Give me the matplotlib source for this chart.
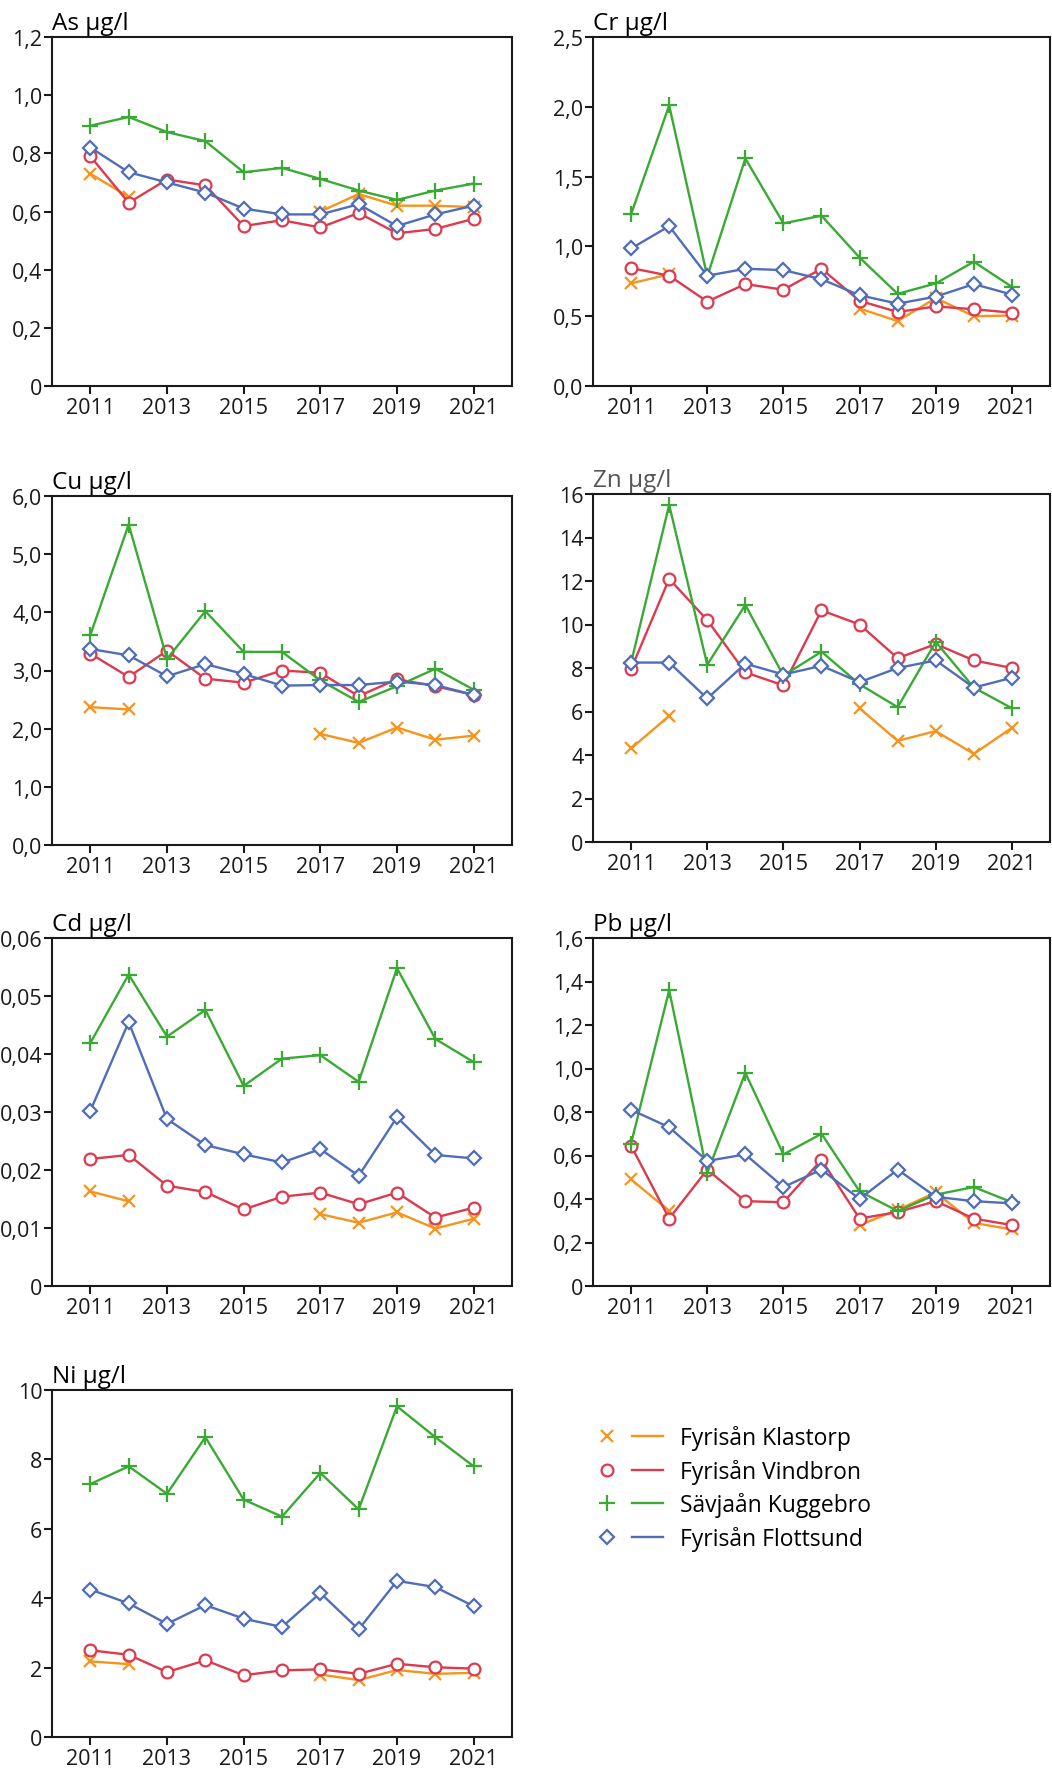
import numpy as np
import matplotlib
matplotlib.use("Agg")
import matplotlib.pyplot as plt
from matplotlib.lines import Line2D
from matplotlib.legend_handler import HandlerTuple

plt.rcParams['font.family'] = ['Open Sans', 'DejaVu Sans']

nan = np.nan
years = np.arange(2011, 2022)
stations = ["Fyrisån Klastorp", "Fyrisån Vindbron", "Sävjaån Kuggebro", "Fyrisån Flottsund"]

# As
as_klastorp = [0.73, 0.65, nan, nan, nan, nan, 0.60, 0.66, 0.62, 0.62, 0.615]
as_vindbron = [0.79, 0.63, 0.71, 0.69, 0.55, 0.57, 0.545, 0.595, 0.525, 0.54, 0.575]
as_kuggebro = [0.895, 0.925, 0.873, 0.842, 0.735, 0.75, 0.712, 0.672, 0.64, 0.672, 0.696]
as_flottsund = [0.82, 0.735, 0.70, 0.665, 0.61, 0.59, 0.59, 0.625, 0.55, 0.59, 0.62]

# Cr
cr_klastorp = [0.735, 0.80, nan, nan, nan, nan, 0.555, 0.465, 0.63, 0.50, 0.505]
cr_vindbron = [0.845, 0.79, 0.605, 0.73, 0.69, 0.84, 0.61, 0.53, 0.57, 0.55, 0.525]
cr_kuggebro = [1.23, 2.01, 0.785, 1.63, 1.165, 1.22, 0.92, 0.66, 0.735, 0.89, 0.71]
cr_flottsund = [0.985, 1.145, 0.79, 0.84, 0.83, 0.765, 0.65, 0.59, 0.64, 0.73, 0.655]

# Cu
cu_klastorp = [2.37, 2.33, nan, nan, nan, nan, 1.91, 1.755, 2.02, 1.81, 1.88]
cu_vindbron = [3.29, 2.89, 3.34, 2.86, 2.79, 3.00, 2.96, 2.56, 2.85, 2.73, 2.58]
cu_kuggebro = [3.61, 5.51, 3.20, 4.02, 3.32, 3.32, 2.83, 2.46, 2.73, 3.03, 2.67]
cu_flottsund = [3.37, 3.26, 2.90, 3.11, 2.94, 2.74, 2.75, 2.75, 2.81, 2.75, 2.58]

# Zn
zn_klastorp = [4.3, 5.8, nan, nan, nan, nan, 6.15, 4.65, 5.1, 4.05, 5.25]
zn_vindbron = [7.95, 12.1, 10.2, 7.8, 7.2, 10.65, 10.0, 8.45, 9.1, 8.35, 8.0]
zn_kuggebro = [8.25, 15.5, 8.15, 10.9, 7.65, 8.75, 7.25, 6.2, 9.2, 7.1, 6.15]
zn_flottsund = [8.25, 8.25, 6.6, 8.2, 7.7, 8.1, 7.35, 8.0, 8.35, 7.1, 7.55]

# Cd
cd_klastorp = [0.0163, 0.0146, nan, nan, nan, nan, 0.0124, 0.0109, 0.0127, 0.0099, 0.0116]
cd_vindbron = [0.0219, 0.0226, 0.0173, 0.0162, 0.0132, 0.0154, 0.0161, 0.0141, 0.0161, 0.0118, 0.0135]
cd_kuggebro = [0.0419, 0.0537, 0.0430, 0.0476, 0.0345, 0.0392, 0.0398, 0.0352, 0.0548, 0.0426, 0.0386]
cd_flottsund = [0.0302, 0.0455, 0.0288, 0.0243, 0.0227, 0.0213, 0.0236, 0.0190, 0.0291, 0.0226, 0.0220]

# Pb
pb_klastorp = [0.49, 0.345, nan, nan, nan, nan, 0.28, 0.35, 0.43, 0.29, 0.26]
pb_vindbron = [0.645, 0.31, 0.535, 0.39, 0.385, 0.58, 0.31, 0.34, 0.39, 0.31, 0.28]
pb_kuggebro = [0.655, 1.36, 0.52, 0.98, 0.605, 0.70, 0.435, 0.345, 0.42, 0.455, 0.385]
pb_flottsund = [0.81, 0.73, 0.575, 0.605, 0.455, 0.535, 0.40, 0.535, 0.41, 0.39, 0.38]

# Ni
ni_klastorp = [2.18, 2.10, nan, nan, nan, nan, 1.80, 1.64, 1.93, 1.82, 1.85]
ni_vindbron = [2.50, 2.37, 1.87, 2.21, 1.78, 1.92, 1.95, 1.82, 2.11, 2.01, 1.97]
ni_kuggebro = [7.29, 7.80, 7.01, 8.64, 6.84, 6.35, 7.61, 6.56, 9.53, 8.64, 7.80]
ni_flottsund = [4.25, 3.85, 3.26, 3.80, 3.41, 3.17, 4.15, 3.10, 4.50, 4.32, 3.77]

colors = ['#f7941d', '#dc3a4e', '#3aaa35', '#4f6db8']
markers = ['x', 'o', '+', 'D']
msizes = [9, 8.5, 11, 7.5]

W, H = 1052, 1774
fig = plt.figure(figsize=(W / 100, H / 100), dpi=100)


def px_axes(left, top, right, bottom):
    return fig.add_axes([left / W, 1 - bottom / H, (right - left) / W, (bottom - top) / H])


def fmt(v, dec, zero):
    if v == 0:
        return zero
    return f"{v:.{dec}f}".replace('.', ',')


panels = [
    ("As µg/l", [as_klastorp, as_vindbron, as_kuggebro, as_flottsund], 1.2, 0.2, 1, '0', (52, 38, 512, 387), 'black'),
    ("Cr µg/l", [cr_klastorp, cr_vindbron, cr_kuggebro, cr_flottsund], 2.5, 0.5, 1, '0,0', (593, 38, 1050, 387), 'black'),
    ("Cu µg/l", [cu_klastorp, cu_vindbron, cu_kuggebro, cu_flottsund], 6.0, 1.0, 1, '0,0', (52, 497, 512, 846), 'black'),
    ("Zn µg/l", [zn_klastorp, zn_vindbron, zn_kuggebro, zn_flottsund], 16, 2, 0, '0', (593, 495, 1050, 843), '#555555'),
    ("Cd µg/l", [cd_klastorp, cd_vindbron, cd_kuggebro, cd_flottsund], 0.06, 0.01, 2, '0', (52, 939, 512, 1287), 'black'),
    ("Pb µg/l", [pb_klastorp, pb_vindbron, pb_kuggebro, pb_flottsund], 1.6, 0.2, 1, '0', (593, 939, 1050, 1287), 'black'),
    ("Ni µg/l", [ni_klastorp, ni_vindbron, ni_kuggebro, ni_flottsund], 10, 2, 0, '0', (52, 1391, 512, 1738), 'black'),
]

order = [3, 1, 2, 0]
for title, series, ymax, step, dec, zero, box, tcol in panels:
    ax = px_axes(*box)
    for i in order:
        ax.plot(years, series[i], color=colors[i], lw=1.7, marker=markers[i], ms=msizes[i],
                mew=1.6, mfc='white' if markers[i] in ('o', 'D') else colors[i], mec=colors[i],
                zorder=3 + i)
    ax.set_xlim(2010, 2022)
    ax.set_ylim(0, ymax)
    yt = np.arange(0, ymax + step / 2, step)
    ax.set_yticks(yt)
    ax.set_yticklabels([fmt(v, dec, zero) for v in yt])
    ax.set_xticks(np.arange(2011, 2022, 2))
    for s in ax.spines.values():
        s.set_linewidth(1.5)
        s.set_color('#1a1a1a')
    ax.tick_params(axis='both', labelsize=15.5, length=6, width=1.5, colors='#1a1a1a')
    ax.tick_params(axis='y', pad=1)
    ax.tick_params(axis='x', pad=2)
    ax.set_title(title, loc='left', fontsize=17.5, color=tcol, pad=6)

handles = []
for i in range(4):
    mk = Line2D([], [], ls='none', marker=markers[i], ms=msizes[i], mew=1.6,
                mfc='white' if markers[i] in ('o', 'D') else colors[i], mec=colors[i])
    ln = Line2D([], [], color=colors[i], lw=1.7)
    handles.append((mk, ln))

fig.legend(handles, stations, handler_map={tuple: HandlerTuple(ndivide=None, pad=0.4)},
           loc='upper left', bbox_to_anchor=(592 / W, 1 - 1426 / H), frameon=False,
           fontsize=16.5, handlelength=3.1, handletextpad=0.75, labelspacing=0.38,
           borderpad=0, borderaxespad=0)

fig.savefig("out.png", dpi=100)
